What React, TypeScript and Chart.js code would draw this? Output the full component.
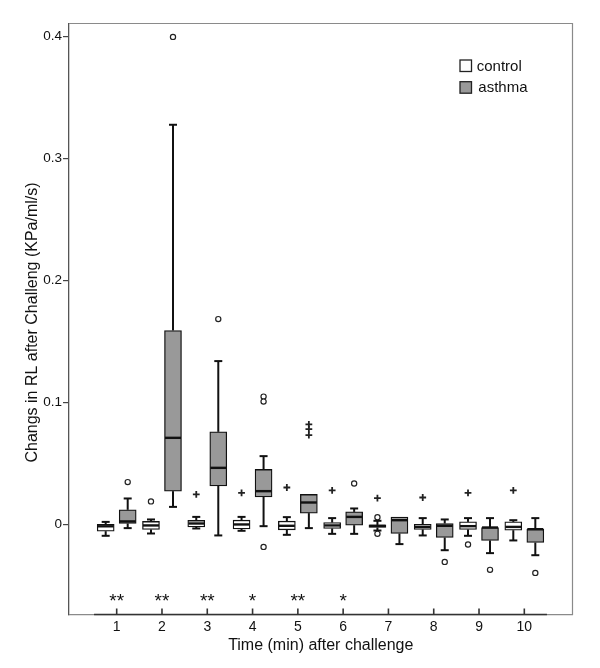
import React, { useEffect, useRef } from 'react';
import { Chart, registerables } from 'chart.js';

Chart.register(...registerables);

// ---- data ----
const times = [1, 2, 3, 4, 5, 6, 7, 8, 9, 10];
const timeLabels = ['1', '2', '3', '4', '5', '6', '7', '8', '9', '10'];
const seriesNames = ['control', 'asthma'];

const controlMin = [-0.0093, -0.0074, -0.0033, -0.0052, -0.0085, -0.0077, -0.005, -0.009, -0.0093, -0.0131];
const controlQ1 = [-0.0055, -0.0041, -0.002, -0.0036, -0.0044, -0.0033, -0.0025, -0.0041, -0.0041, -0.0047];
const controlMedian = [-0.0015, -0.0008, 0.0008, 0.0, -0.0011, -0.0008, -0.0012, -0.002, -0.0014, -0.002];
const controlQ3 = [0.0002, 0.0025, 0.0033, 0.0035, 0.0027, 0.0016, -0.0004, 0.0002, 0.0021, 0.0021];
const controlMax = [0.0021, 0.0041, 0.0062, 0.0062, 0.006, 0.0052, 0.003, 0.0052, 0.0052, 0.0035];
const controlOutliers: [number, number][] = [[2, 0.0189], [7, 0.006], [7, -0.0077], [9, -0.0164]];
const controlExtremes: [number, number][] = [[3, 0.0246], [4, 0.0259], [5, 0.0303], [6, 0.0279], [7, 0.0216], [8, 0.0221], [9, 0.0259], [10, 0.0279]];

const asthmaMin = [-0.003, 0.0144, -0.009, -0.0014, -0.003, -0.0077, -0.0161, -0.0211, -0.0235, -0.0252];
const asthmaQ1 = [0.0008, 0.0273, 0.0316, 0.0226, 0.0093, -0.0006, -0.0074, -0.0107, -0.0131, -0.0148];
const asthmaMedian = [0.0025, 0.071, 0.0464, 0.0273, 0.018, 0.0062, 0.0035, -0.0011, -0.0025, -0.0039];
const asthmaQ3 = [0.012, 0.159, 0.0759, 0.0451, 0.0246, 0.0103, 0.006, 0.0008, -0.0025, -0.0039];
const asthmaMax = [0.0213, 0.3276, 0.1339, 0.056, 0.0246, 0.0131, 0.006, 0.0041, 0.0052, 0.0052];
const asthmaOutliers: [number, number][] = [[1, 0.0347], [2, 0.3996], [3, 0.1683], [4, 0.1048], [4, 0.1007], [4, -0.0184], [6, 0.0336], [8, -0.0307], [9, -0.0372], [10, -0.0397]];
const asthmaExtremes: [number, number][] = [[5, 0.082], [5, 0.0781], [5, 0.0732]];

const significance = ['**', '**', '**', '*', '**', '*', '', '', '', ''];
const sigLevel = -0.0588;

const yTickValues = [0, 0.1, 0.2, 0.3, 0.4];
const yTickLabels = ['0', '0.1', '0.2', '0.3', '0.4'];
const yMin = -0.0738;
const yMax = 0.4106;
const xMin = -0.053;
const xMax = 11.064;

const xTitle = 'Time (min) after challenge';
const yTitle = 'Changs in RL after Challeng (KPa/ml/s)';

const FONT = '"Liberation Sans", Arial, sans-serif';
const GROUP_OFFSET = 0.243;
const BOX_PX = 17;
const CONTROL_FILL = '#ffffff';
const ASTHMA_FILL = '#999999';
const INK = '#111111';

export default function App() {
  const ref = useRef<HTMLCanvasElement>(null);

  useEffect(() => {
    const canvas = ref.current;
    if (!canvas) return;

    const boxes = (q1: number[], q3: number[], sign: number) =>
      times.map((t, i) => ({ x: t + sign * GROUP_OFFSET, y: [q1[i], q3[i]] }));
    const pts = (arr: [number, number][], sign: number) =>
      arr.map(([t, v]) => ({ x: t + sign * GROUP_OFFSET, y: v }));

    const groups = [
      { mn: controlMin, q1: controlQ1, md: controlMedian, q3: controlQ3, mx: controlMax, sign: -1 },
      { mn: asthmaMin, q1: asthmaQ1, md: asthmaMedian, q3: asthmaQ3, mx: asthmaMax, sign: 1 },
    ];

    const boxPlugin = {
      id: 'boxExtras',
      beforeDatasetsDraw(chart: any) {
        const { ctx } = chart;
        const x = chart.scales.x;
        const y = chart.scales.y;
        ctx.save();
        ctx.strokeStyle = INK;
        ctx.lineWidth = 2;
        for (const g of groups) {
          times.forEach((t, i) => {
            const px = x.getPixelForValue(t + g.sign * GROUP_OFFSET);
            const segs: [number, number][] = [[g.q3[i], g.mx[i]], [g.q1[i], g.mn[i]]];
            for (const [a, b] of segs) {
              if (Math.abs(b - a) < 1e-9) continue;
              const ya = y.getPixelForValue(a);
              const yb = y.getPixelForValue(b);
              ctx.beginPath();
              ctx.moveTo(px, ya);
              ctx.lineTo(px, yb);
              ctx.stroke();
              ctx.beginPath();
              ctx.moveTo(px - 4, yb);
              ctx.lineTo(px + 4, yb);
              ctx.stroke();
            }
          });
        }
        ctx.restore();
      },
      afterDatasetsDraw(chart: any) {
        const { ctx } = chart;
        const x = chart.scales.x;
        const y = chart.scales.y;
        ctx.save();
        ctx.strokeStyle = INK;
        ctx.lineWidth = 2.4;
        for (const g of groups) {
          times.forEach((t, i) => {
            const px = x.getPixelForValue(t + g.sign * GROUP_OFFSET);
            const py = y.getPixelForValue(g.md[i]);
            ctx.beginPath();
            ctx.moveTo(px - BOX_PX / 2 + 0.5, py);
            ctx.lineTo(px + BOX_PX / 2 - 0.5, py);
            ctx.stroke();
          });
        }
        ctx.restore();
      },
      afterDraw(chart: any) {
        const { ctx, chartArea } = chart;
        const x = chart.scales.x;
        const y = chart.scales.y;
        const { left, right, top, bottom } = chartArea;
        ctx.save();
        // frame top/right/bottom
        ctx.strokeStyle = '#8a8a8a';
        ctx.lineWidth = 1.2;
        ctx.beginPath();
        ctx.moveTo(left, top);
        ctx.lineTo(right, top);
        ctx.lineTo(right, bottom);
        ctx.lineTo(left, bottom);
        ctx.stroke();
        // x-axis line (0.5 .. 10.5)
        ctx.strokeStyle = '#333';
        ctx.lineWidth = 1.4;
        ctx.beginPath();
        ctx.moveTo(x.getPixelForValue(times[0] - 0.5), bottom);
        ctx.lineTo(x.getPixelForValue(times[times.length - 1] + 0.5), bottom);
        ctx.stroke();
        // inward x tick marks
        ctx.lineWidth = 1.6;
        times.forEach((t) => {
          const px = x.getPixelForValue(t);
          ctx.beginPath();
          ctx.moveTo(px, bottom);
          ctx.lineTo(px, bottom - 6);
          ctx.stroke();
        });
        // significance stars
        ctx.fillStyle = INK;
        ctx.font = `19px ${FONT}`;
        ctx.textAlign = 'center';
        ctx.textBaseline = 'alphabetic';
        times.forEach((t, i) => {
          if (!significance[i]) return;
          ctx.fillText(significance[i], x.getPixelForValue(t), y.getPixelForValue(sigLevel) + 11);
        });
        // legend
        const lx = right - 112.5;
        const ly = top + 36.5;
        const fills = [CONTROL_FILL, ASTHMA_FILL];
        ctx.font = `15px ${FONT}`;
        ctx.textAlign = 'left';
        seriesNames.forEach((name, i) => {
          const by = ly + i * 21.7;
          ctx.fillStyle = fills[i];
          ctx.fillRect(lx, by, 11.5, 11.5);
          ctx.strokeStyle = '#222';
          ctx.lineWidth = 1.3;
          ctx.strokeRect(lx, by, 11.5, 11.5);
          ctx.fillStyle = INK;
          ctx.fillText(name, lx + 16.7 + i * 1.6, by + 10.6);
        });
        // axis titles
        ctx.font = `16px ${FONT}`;
        ctx.textAlign = 'center';
        ctx.fillText(xTitle, (left + right) / 2, 650);
        ctx.save();
        ctx.translate(32.5, 322.5);
        ctx.rotate(-Math.PI / 2);
        ctx.textBaseline = 'middle';
        ctx.fillText(yTitle, 0, 0);
        ctx.restore();
        ctx.restore();
      },
    };

    const chart = new Chart(canvas, {
      type: 'bar',
      data: {
        datasets: [
          {
            type: 'scatter',
            label: 'control outliers',
            data: pts(controlOutliers, -1),
            pointStyle: 'circle',
            pointRadius: 2.6,
            pointBackgroundColor: '#fff',
            pointBorderColor: '#222',
            pointBorderWidth: 1.2,
            order: 0,
          },
          {
            type: 'scatter',
            label: 'asthma outliers',
            data: pts(asthmaOutliers, 1),
            pointStyle: 'circle',
            pointRadius: 2.6,
            pointBackgroundColor: '#fff',
            pointBorderColor: '#222',
            pointBorderWidth: 1.2,
            order: 0,
          },
          {
            type: 'scatter',
            label: 'control extremes',
            data: pts(controlExtremes, -1),
            pointStyle: 'cross',
            pointRadius: 3.4,
            pointBorderColor: '#222',
            pointBorderWidth: 1.8,
            order: 0,
          },
          {
            type: 'scatter',
            label: 'asthma extremes',
            data: pts(asthmaExtremes, 1),
            pointStyle: 'cross',
            pointRadius: 3.4,
            pointBorderColor: '#222',
            pointBorderWidth: 1.8,
            order: 0,
          },
          {
            type: 'bar',
            label: seriesNames[0],
            data: boxes(controlQ1, controlQ3, -1),
            backgroundColor: CONTROL_FILL,
            borderColor: INK,
            borderWidth: 1.3,
            borderSkipped: false,
            grouped: false,
            maxBarThickness: BOX_PX,
            barPercentage: 1,
            categoryPercentage: 1,
            order: 2,
          },
          {
            type: 'bar',
            label: seriesNames[1],
            data: boxes(asthmaQ1, asthmaQ3, 1),
            backgroundColor: ASTHMA_FILL,
            borderColor: INK,
            borderWidth: 1.3,
            borderSkipped: false,
            grouped: false,
            maxBarThickness: BOX_PX,
            barPercentage: 1,
            categoryPercentage: 1,
            order: 2,
          },
        ] as any,
      },
      options: {
        animation: false,
        responsive: false,
        events: [],
        layout: { padding: { top: 23.5, right: 27.5, left: 0, bottom: 0 } },
        plugins: { legend: { display: false }, tooltip: { enabled: false } },
        scales: {
          x: {
            type: 'linear',
            offset: false,
            min: xMin,
            max: xMax,
            afterBuildTicks: (s: any) => {
              s.ticks = times.map((v) => ({ value: v }));
            },
            afterFit: (s: any) => {
              s.height = 53.5;
            },
            grid: { display: false, drawTicks: false, offset: false },
            border: { display: true, color: '#8a8a8a', width: 1.2 },
            ticks: {
              padding: 4,
              color: INK,
              font: { family: FONT, size: 14 },
              callback: (v: any) => timeLabels[times.indexOf(Number(v))] ?? '',
            },
          },
          y: {
            type: 'linear',
            min: yMin,
            max: yMax,
            afterBuildTicks: (s: any) => {
              s.ticks = yTickValues.map((v) => ({ value: v }));
            },
            afterFit: (s: any) => {
              s.width = 69;
            },
            grid: { display: true, drawOnChartArea: false, drawTicks: true, tickLength: 6, color: '#444', lineWidth: 1.2 },
            border: { display: true, color: '#555', width: 1.3 },
            ticks: {
              padding: 1,
              color: INK,
              font: { family: FONT, size: 13.5 },
              callback: (v: any) => {
                const idx = yTickValues.findIndex((t) => Math.abs(t - Number(v)) < 1e-9);
                return idx >= 0 ? yTickLabels[idx] : '';
              },
            },
          },
        },
      } as any,
      plugins: [boxPlugin],
    });

    return () => chart.destroy();
  }, []);

  return (
    <div style={{ position: 'fixed', left: 0, top: 0, width: 600, height: 668, background: '#fff' }}>
      <canvas ref={ref} width={600} height={668} style={{ display: 'block', width: 600, height: 668 }} />
    </div>
  );
}
